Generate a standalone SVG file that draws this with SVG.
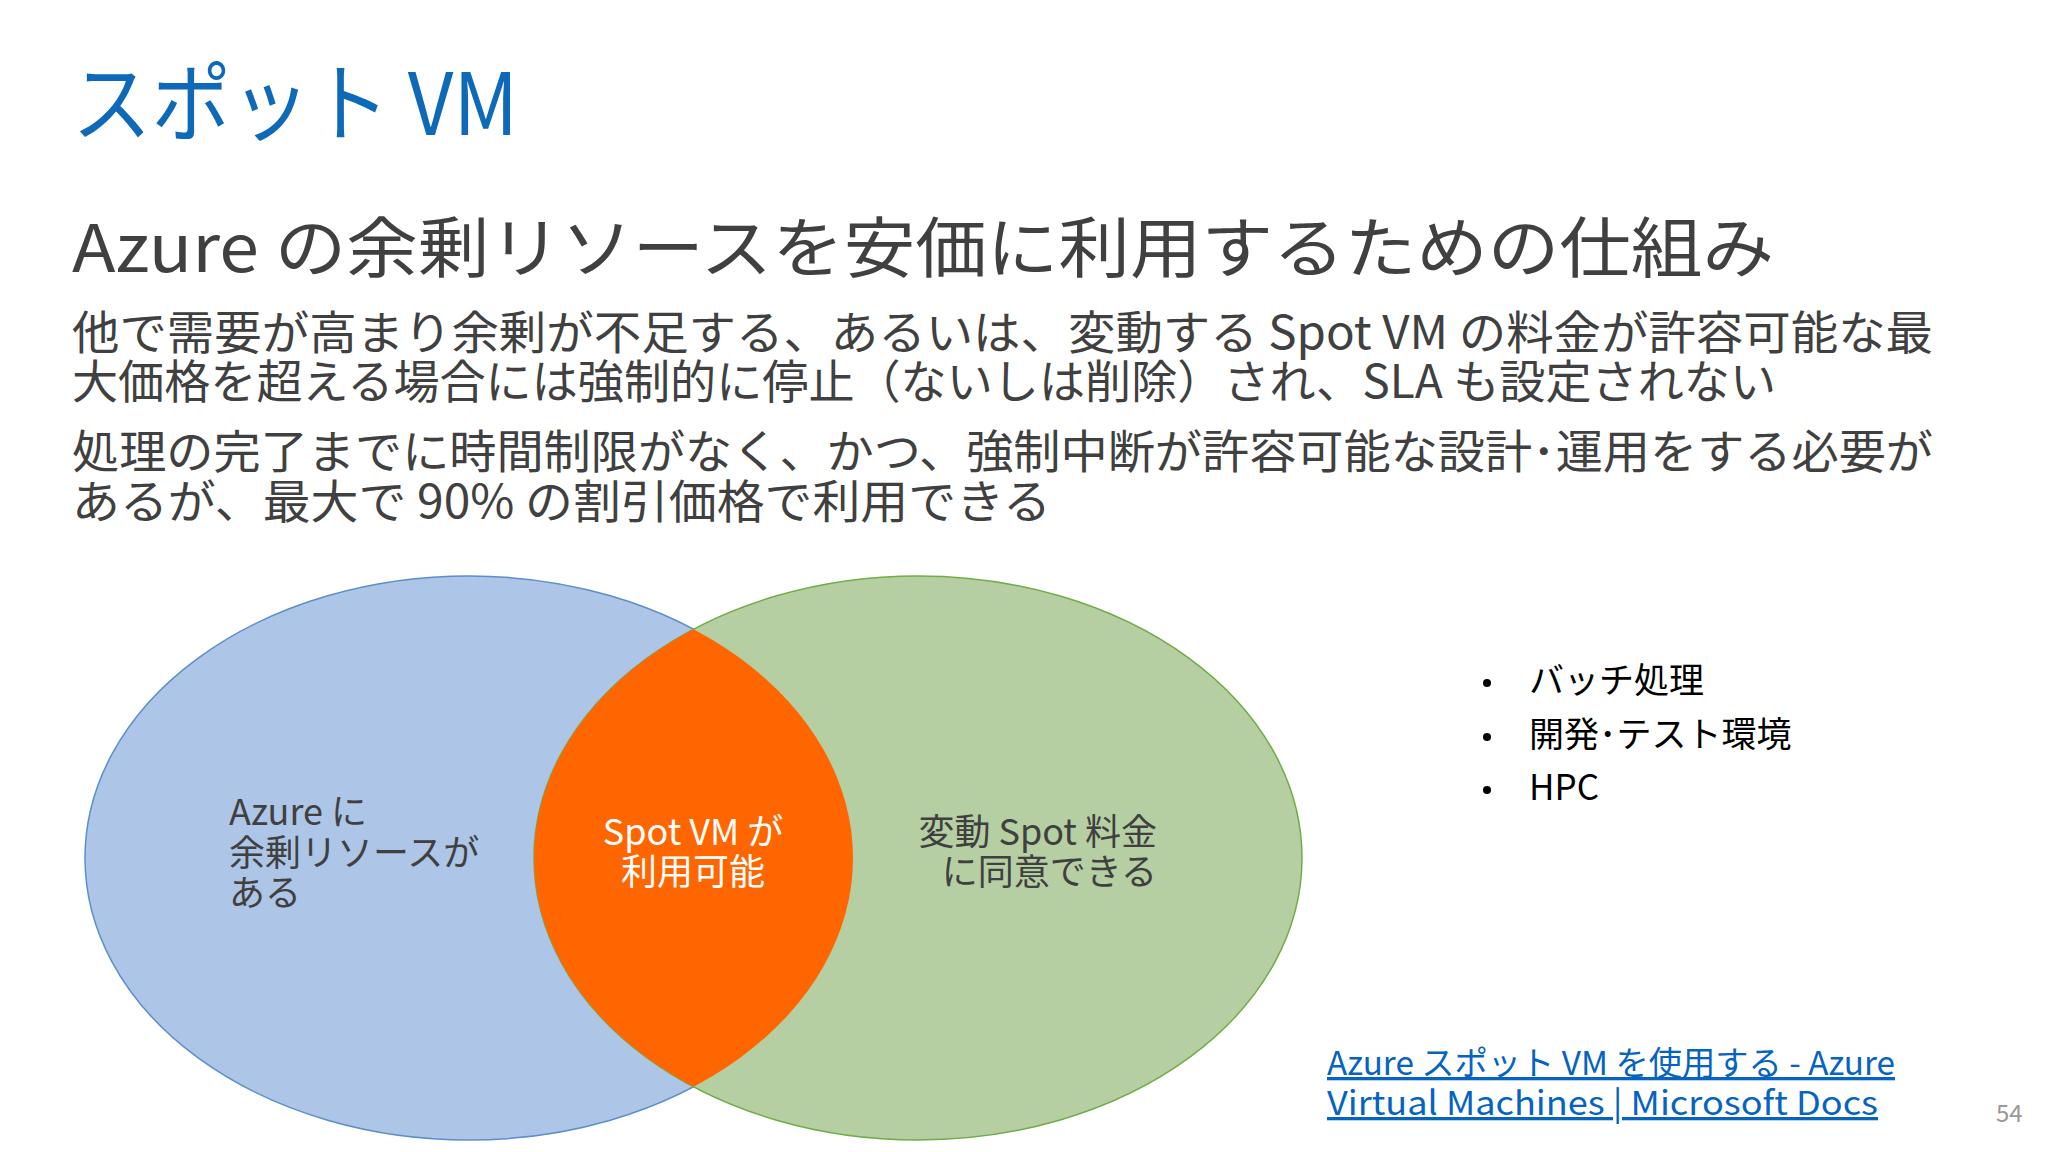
<svg xmlns="http://www.w3.org/2000/svg" width="2048" height="1152" viewBox="0 0 2048 1152">
<style>
text{font-family:"Noto Sans CJK JP","Noto Sans",sans-serif}
.b{fill:#404040;font-size:46px}
.v{fill:#404040;font-size:36px}
.l{fill:#0563c1;font-size:33px;text-decoration:underline}
.bl{fill:#000;font-size:35px}
</style>
<defs><clipPath id="cb"><ellipse cx="469" cy="858" rx="384" ry="282"/></clipPath></defs>
<rect width="2048" height="1152" fill="#fff"/>
<text x="72" y="135" fill="#0e6ab8" font-size="86" textLength="446" lengthAdjust="spacingAndGlyphs">スポット VM</text>
<text x="72" y="272" fill="#404040" font-size="66" textLength="1702" lengthAdjust="spacingAndGlyphs">Azure の余剰リソースを安価に利用するための仕組み</text>
<text class="b" x="72" y="349" textLength="1861" lengthAdjust="spacingAndGlyphs">他で需要が高まり余剰が不足する、あるいは、変動する Spot VM の料金が許容可能な最</text>
<text class="b" x="72" y="398" textLength="1704" lengthAdjust="spacingAndGlyphs">大価格を超える場合には強制的に停止（ないしは削除）され、SLA も設定されない</text>
<text class="b" x="72" y="468" textLength="1861" lengthAdjust="spacingAndGlyphs">処理の完了までに時間制限がなく、かつ、強制中断が許容可能な設計･運用をする必要が</text>
<text class="b" x="72" y="518" textLength="979" lengthAdjust="spacingAndGlyphs">あるが、最大で 90% の割引価格で利用できる</text>
<g id="blue"><ellipse cx="469" cy="858" rx="384" ry="282" fill="#adc5e7" stroke="#5b8fcb" stroke-width="1.5"/></g>
<g id="green"><ellipse cx="918" cy="858" rx="384" ry="282" fill="#b5cfa3" stroke="#70ad47" stroke-width="1.5"/></g>
<g id="overlap"><ellipse cx="918" cy="858" rx="384" ry="282" fill="#ff6600" clip-path="url(#cb)"/></g>
<g id="lbl-blue"><text class="v" x="229" y="825">Azure に</text><text class="v" x="229" y="866">余剰リソースが</text><text class="v" x="229" y="906">ある</text></g>
<g id="lbl-mid"><text class="v" x="693" y="845" fill="#fff" style="fill:#fff" text-anchor="middle">Spot VM が</text><text class="v" x="693" y="885" style="fill:#fff" text-anchor="middle">利用可能</text></g>
<g id="lbl-green"><text class="v" x="1157" y="845" text-anchor="end">変動 Spot 料金</text><text class="v" x="1157" y="885" text-anchor="end">に同意できる</text></g>
<g id="bullets">
<circle cx="1487" cy="683" r="4"/><text class="bl" x="1529" y="693">バッチ処理</text>
<circle cx="1487" cy="737" r="4"/><text class="bl" x="1529" y="747">開発･テスト環境</text>
<circle cx="1487" cy="790" r="4"/><text class="bl" x="1529" y="800">HPC</text>
</g>
<text class="l" x="1327" y="1075" textLength="568" lengthAdjust="spacingAndGlyphs">Azure スポット VM を使用する - Azure</text>
<text class="l" x="1327" y="1115" textLength="551" lengthAdjust="spacingAndGlyphs">Virtual Machines | Microsoft Docs</text>
<text x="1996" y="1122" fill="#999" font-size="24">54</text>
</svg>
